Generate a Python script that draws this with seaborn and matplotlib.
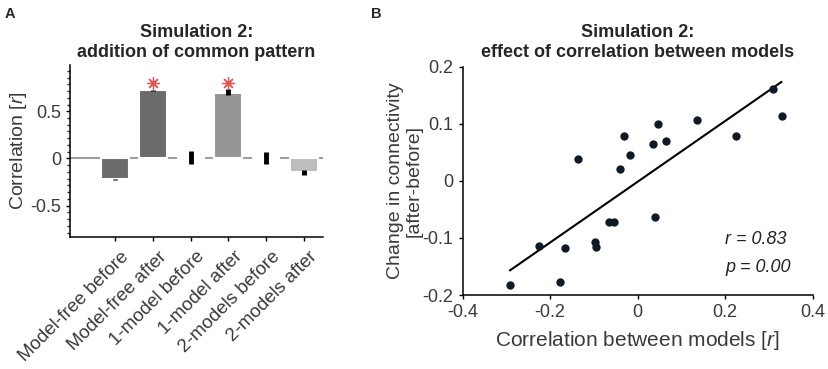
import numpy as np
import pandas as pd
import matplotlib
matplotlib.use("Agg")
import matplotlib.pyplot as plt
from matplotlib.ticker import AutoMinorLocator
from matplotlib.transforms import ScaledTranslation
import seaborn as sns

# Panel A data
conditions = ['Model-free before', 'Model-free after', '1-model before',
              '1-model after', '2-models before', '2-models after']
bar_values = [-0.22, 0.72, 0.0, 0.69, 0.0, -0.14]
err_centers = [-0.22, 0.72, 0.007, 0.70, 0.007, -0.15]
err_sizes = [0.005, 0.006, 0.07, 0.032, 0.065, 0.03]
bar_colors = ['#6b6b6b', '#6b6b6b', '#6b6b6b', '#959595', '#bdbdbd', '#bdbdbd']
significant = [False, True, False, True, False, False]
star_height = 0.80

# Panel B data
model_corr = [-0.136, -0.040, -0.032, -0.018, 0.035, 0.047, 0.066, 0.136, 0.226, 0.309,
              0.329, 0.040, -0.066, -0.053, -0.098, -0.096, -0.226, -0.166, -0.177, -0.292]
conn_change = [0.038, 0.021, 0.078, 0.046, 0.064, 0.099, 0.070, 0.107, 0.079, 0.161,
               0.114, -0.063, -0.073, -0.073, -0.107, -0.116, -0.115, -0.117, -0.177, -0.183]
r_text = 'r = 0.83'
p_text = 'p = 0.00'

sns.set_style('white')
plt.rcParams['font.family'] = ['Liberation Sans', 'DejaVu Sans']
plt.rcParams['mathtext.fontset'] = 'custom'
plt.rcParams['mathtext.it'] = 'Liberation Sans:italic'
plt.rcParams['mathtext.rm'] = 'Liberation Sans'
text_col = '#3a3a3a'

fig = plt.figure(figsize=(8.29, 3.69), dpi=100)
ax1 = fig.add_axes([0.0844, 0.3585, 0.3047, 0.4653])
ax2 = fig.add_axes([0.558, 0.2005, 0.4222, 0.619])

# ---- Panel A: bars
df_a = pd.DataFrame({'cond': conditions, 'value': bar_values})
ax1.axhline(0, color='#8a8a8a', lw=1.2, zorder=0)
sns.barplot(data=df_a, x='cond', y='value', hue='cond', palette=bar_colors,
            legend=False, width=0.74, edgecolor='white', linewidth=1.5, ax=ax1, zorder=2)
ax1.errorbar(np.arange(len(conditions)), err_centers, yerr=err_sizes, fmt='none',
             ecolor='black', elinewidth=3.5, capsize=0, zorder=3)
for i, sig in enumerate(significant):
    if sig:
        ax1.plot(i, star_height, marker=(8, 2, 0), ms=9, mec='#e8504f', mew=0.9, zorder=4)

ax1.set_xlim(-1.2, 5.5)
ax1.set_ylim(-0.83, 0.99)
ax1.set_yticks([-0.5, 0, 0.5])
ax1.set_yticklabels(['-0.5', '0', '0.5'])
ax1.yaxis.set_minor_locator(AutoMinorLocator(7))
ax1.set_xlabel('')
ax1.set_ylabel('Correlation [$\\it{r}$]', fontsize=14, color=text_col, labelpad=1)
ax1.tick_params(axis='both', which='major', direction='out', length=3, width=1,
                labelsize=13, colors='black', labelcolor=text_col, left=True, bottom=True)
ax1.tick_params(axis='y', which='minor', direction='out', length=2, width=1, left=True)
ax1.tick_params(axis='x', labelsize=13.5)
shift = ScaledTranslation(8 / 72, -6 / 72, fig.dpi_scale_trans)
for lab in ax1.get_xticklabels():
    lab.set_rotation(45)
    lab.set_ha('right')
    lab.set_va('center')
    lab.set_rotation_mode('anchor')
    lab.set_transform(lab.get_transform() + shift)
ax1.set_title('Simulation 2:\naddition of common pattern', fontsize=13,
              fontweight='bold', pad=6, linespacing=1.2)
sns.despine(ax=ax1)
for s in ['left', 'bottom']:
    ax1.spines[s].set_color('black')
    ax1.spines[s].set_linewidth(1.1)

# ---- Panel B: scatter with regression line
df_b = pd.DataFrame({'x': model_corr, 'y': conn_change})
sns.regplot(data=df_b, x='x', y='y', ci=None, ax=ax2,
            scatter_kws={'color': '#0f1a26', 's': 36, 'alpha': 1, 'linewidths': 0, 'zorder': 3},
            line_kws={'color': 'black', 'lw': 1.5, 'zorder': 2})
ax2.text(0.2, -0.103, r_text, fontsize=13, style='italic', color='#222222', va='center')
ax2.text(0.2, -0.151, p_text, fontsize=13, style='italic', color='#222222', va='center')
ax2.set_xlim(-0.4, 0.4)
ax2.set_ylim(-0.2, 0.2)
ax2.set_xticks([-0.4, -0.2, 0, 0.2, 0.4])
ax2.set_xticklabels(['-0.4', '-0.2', '0', '0.2', '0.4'])
ax2.set_yticks([-0.2, -0.1, 0, 0.1, 0.2])
ax2.set_yticklabels(['-0.2', '-0.1', '0', '0.1', '0.2'])
ax2.tick_params(axis='both', direction='out', length=3, width=1, labelsize=13,
                colors='black', labelcolor=text_col, left=True, bottom=True)
ax2.set_xlabel('Correlation between models [$\\it{r}$]', fontsize=15, color=text_col, labelpad=6)
ax2.set_ylabel('Change in connectivity\n[after-before]', fontsize=14, color=text_col,
               labelpad=0, linespacing=1.1)
ax2.set_title('Simulation 2:\neffect of correlation between models', fontsize=13,
              fontweight='bold', pad=7, linespacing=1.2)
sns.despine(ax=ax2)
for s in ['left', 'bottom']:
    ax2.spines[s].set_color('black')
    ax2.spines[s].set_linewidth(1.1)

fig.text(0.006, 0.98, 'A', fontsize=10.5, fontweight='bold', va='top')
fig.text(0.447, 0.98, 'B', fontsize=10.5, fontweight='bold', va='top')

fig.savefig('out.png', dpi=100)
